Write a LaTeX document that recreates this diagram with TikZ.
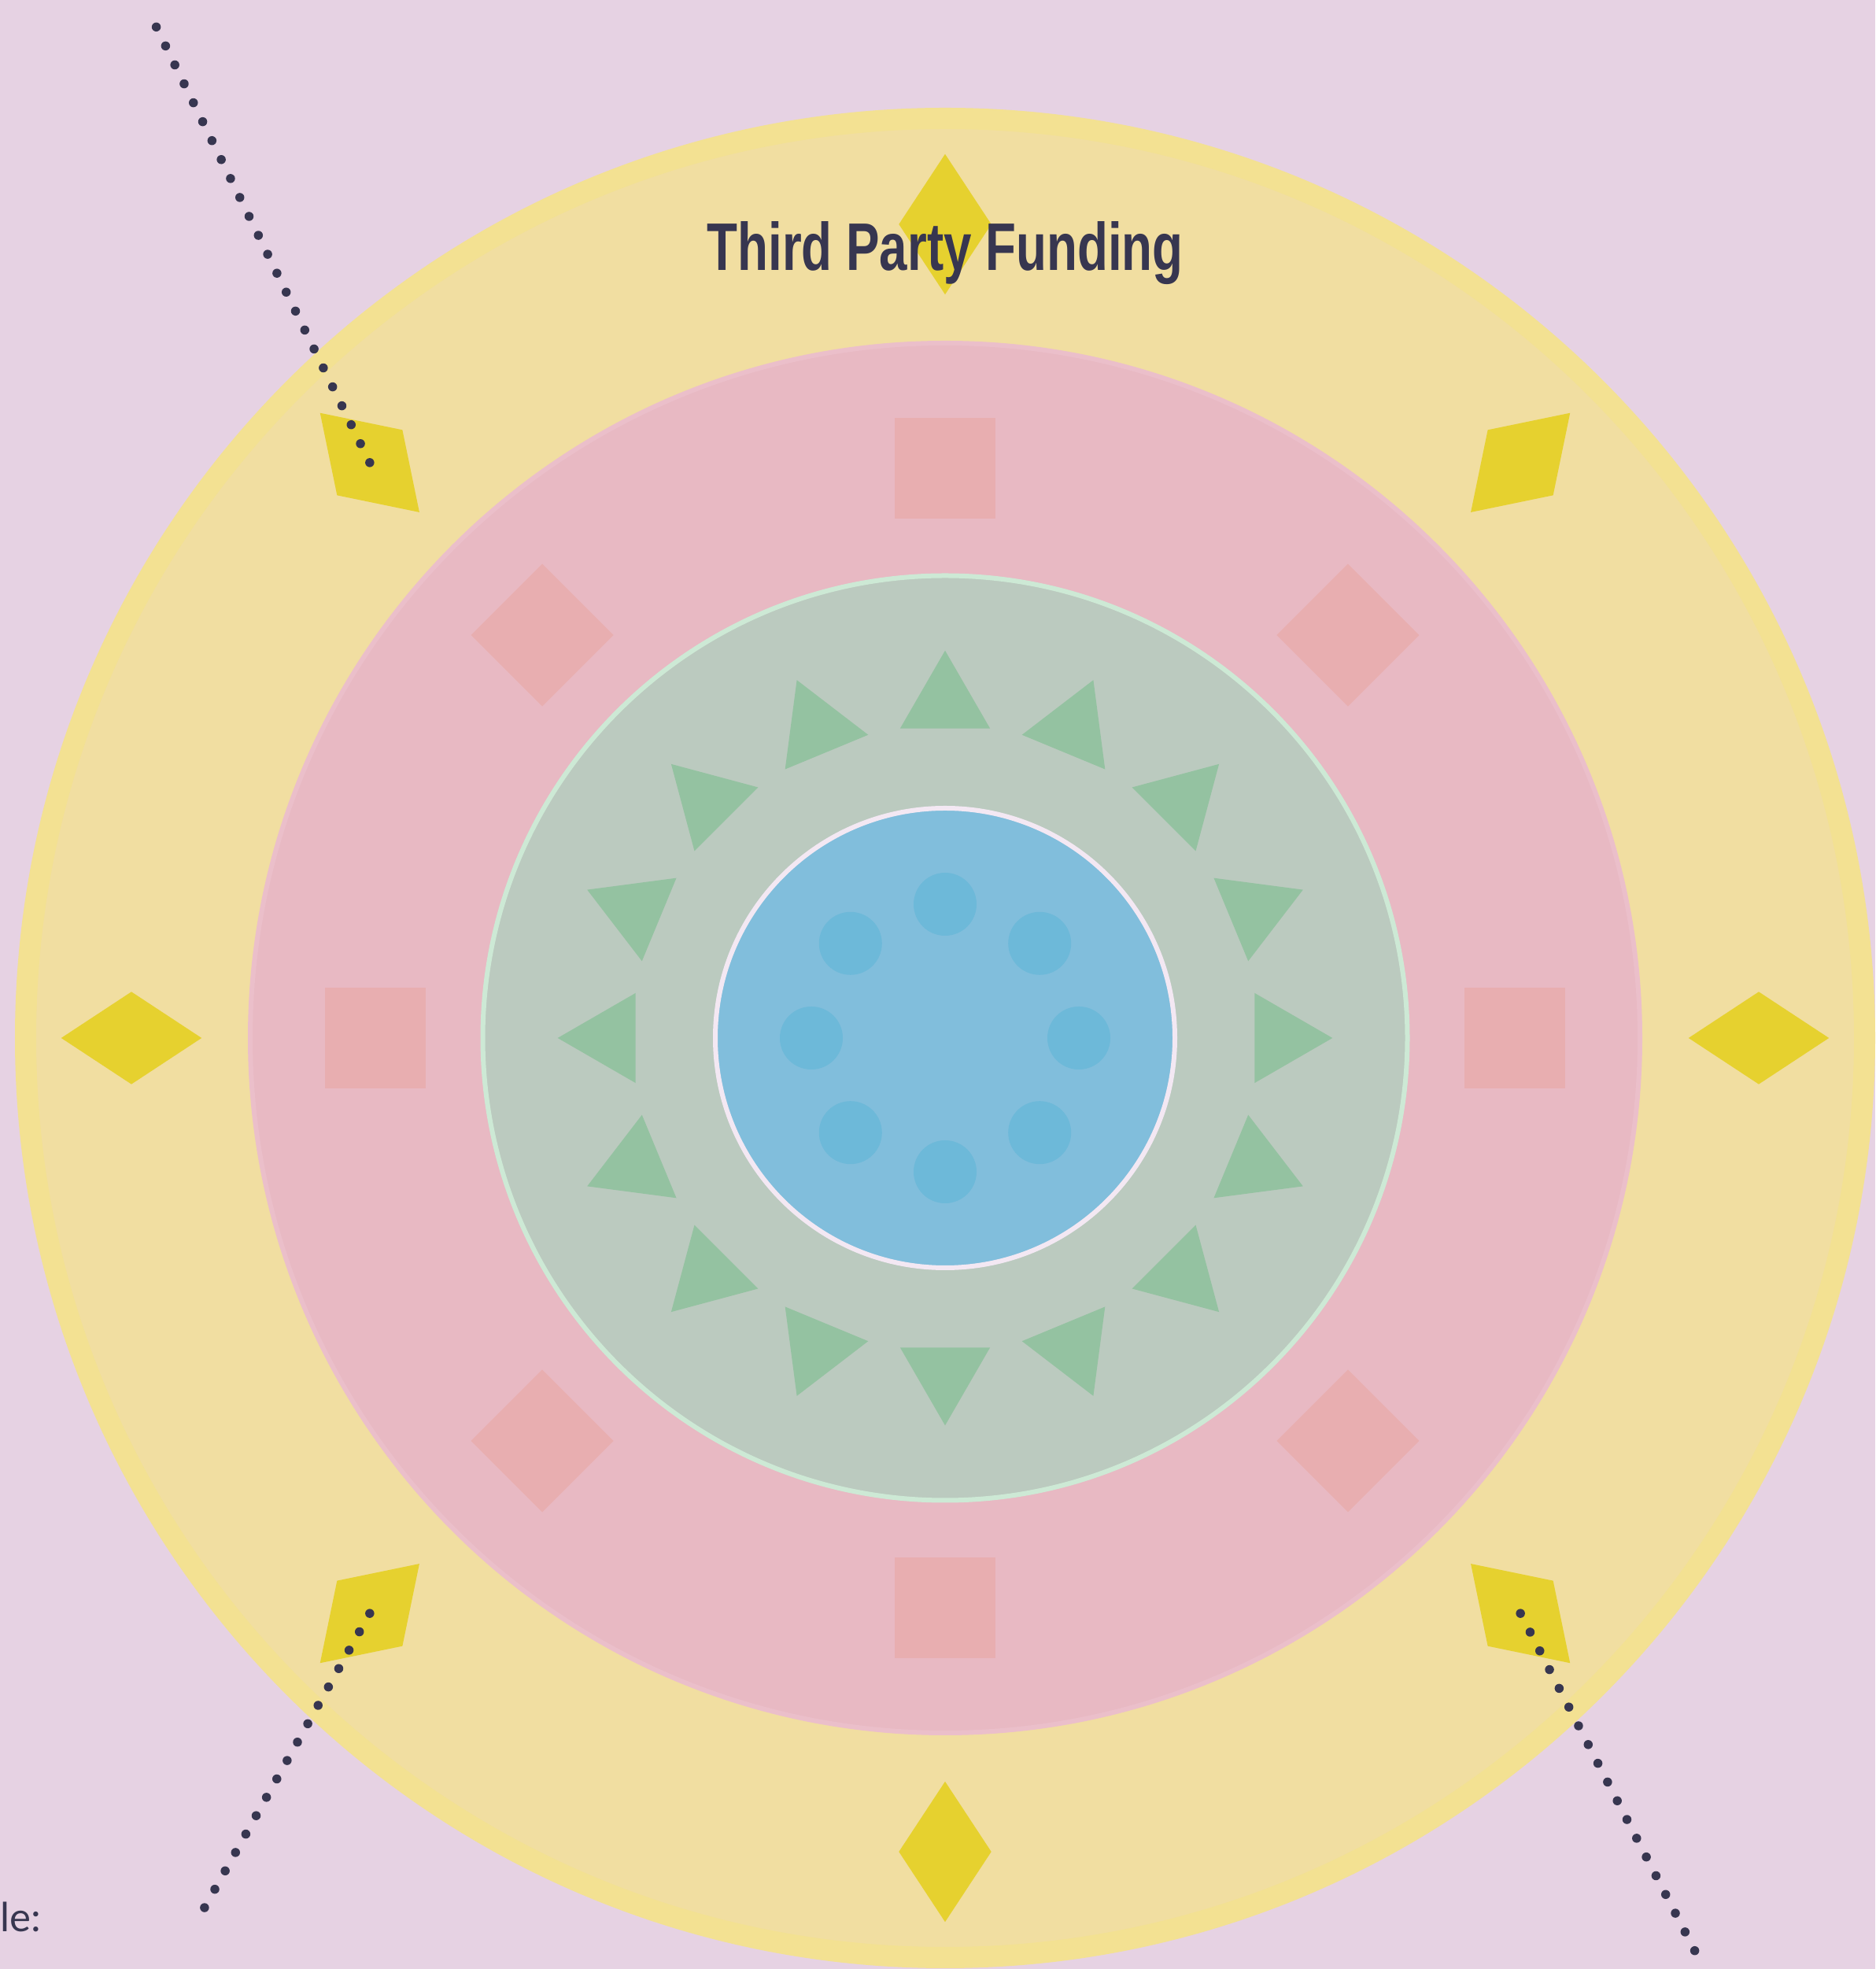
\documentclass[tikz,border=0pt]{standalone}
\usepackage{fontspec}
\usepackage{graphicx}
\setmainfont{Lato}
\newfontfamily\titlefont{Liberation Sans}
\usetikzlibrary{shapes.geometric, positioning, calc}

\definecolor{bgcol}{HTML}{E6D2E3}
\definecolor{yellowrim}{HTML}{F3E192}
\definecolor{yellowfill}{HTML}{F1DEA1}
\definecolor{yellowmark}{HTML}{E6D12F}
\definecolor{pinkfill}{HTML}{E8B9C3}
\definecolor{pinkrim}{HTML}{EBBFCA}
\definecolor{pinkmark}{HTML}{E8AEB0}
\definecolor{greenfill}{HTML}{BBCABF}
\definecolor{greenrim}{HTML}{CDE9D5}
\definecolor{greenmark}{HTML}{94C2A1}
\definecolor{bluefill}{HTML}{81BEDC}
\definecolor{bluerim}{HTML}{F3E8F3}
\definecolor{bluemark}{HTML}{6DB9D9}
\definecolor{inkcol}{HTML}{373650}

\begin{document}
\begin{tikzpicture}[
    ringdiamond/.style={diamond, fill=yellowmark, inner sep=0pt,
        minimum width=1.79cm, minimum height=1.18cm},
    ringsquare/.style={rectangle, fill=pinkmark, inner sep=0pt,
        minimum size=1.28cm},
    ringtriangle/.style={regular polygon, regular polygon sides=3,
        fill=greenmark, inner sep=0pt, minimum size=1.32cm},
    ringdot/.style={circle, fill=bluemark, inner sep=0pt, minimum size=0.80cm},
    leader/.style={draw=inkcol, line width=0.115cm, line cap=round,
        dash pattern=on 0pt off 0.268cm}
]
\fill[bgcol] (0,0) rectangle (23.83,25.02);
\useasboundingbox (0,0) rectangle (23.83,25.02);
\coordinate (hub) at (12.01,11.83);

\fill[yellowfill, draw=yellowrim, line width=0.27cm] (hub) circle (11.685);
\foreach \a in {0,45,...,315}
    \node[ringdiamond, rotate=\a] (d\a) at ($(hub)+(\a:10.34)$) {};

\fill[pinkfill, draw=pinkrim, line width=0.06cm] (hub) circle (8.83);
\foreach \a in {0,45,...,315}
    \node[ringsquare, rotate=\a] (s\a) at ($(hub)+(\a:7.24)$) {};

\fill[greenfill, draw=greenrim, line width=0.06cm] (hub) circle (5.875);
\foreach \a in {0,22.5,...,337.5}
    \node[ringtriangle, rotate=\a-90] at ($(hub)+(\a:4.263)$) {};

\fill[bluefill, draw=bluerim, line width=0.06cm] (hub) circle (2.92);
\foreach \a in {0,45,...,315}
    \node[ringdot] (b\a) at ($(hub)+(\a:1.70)$) {};

\node[text=inkcol, anchor=base, inner sep=0pt] (title) at (12.01,21.58)
    {\resizebox{6.05cm}{0.62cm}{\titlefont\bfseries Third Party Funding}};
\node[text=inkcol, anchor=base east, inner sep=0pt,
    font=\fontsize{14.5}{17}\selectfont] (legend) at (0.53,0.48) {le:};

\coordinate (endNW) at (1.95,24.75);
\coordinate (endSW) at (2.56,0.71);
\coordinate (endSE) at (21.61,0.09);
\draw[leader] (d135.center) -- (endNW);
\draw[leader] (d225.center) -- (endSW);
\draw[leader] (d315.center) -- (endSE);
\end{tikzpicture}
\end{document}
